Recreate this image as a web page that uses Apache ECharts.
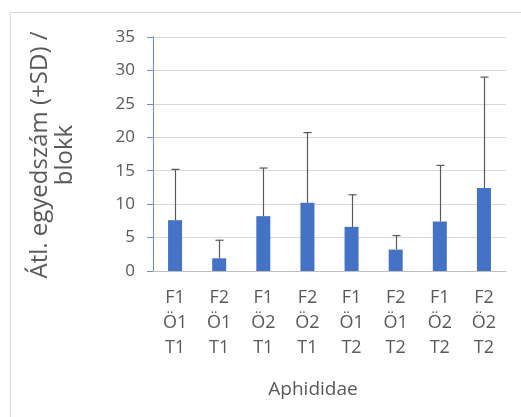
<!DOCTYPE html>
<html>
<head>
<meta charset="utf-8">
<script src="https://cdn.jsdelivr.net/npm/echarts@6/dist/echarts.min.js"></script>
<style>
  html, body { margin: 0; padding: 0; background: #fff; }
  #chart { width: 521px; height: 417px; }
</style>
</head>
<body>
<div id="chart"></div>
<script>
// Treatment groups (F / Ö / T combinations)
const categories = ['F1\nÖ1\nT1', 'F2\nÖ1\nT1', 'F1\nÖ2\nT1', 'F2\nÖ2\nT1',
                    'F1\nÖ1\nT2', 'F2\nÖ1\nT2', 'F1\nÖ2\nT2', 'F2\nÖ2\nT2'];
// Mean count per block
const means = [7.6, 1.9, 8.2, 10.2, 6.6, 3.2, 7.4, 12.4];
// Standard deviation (drawn upward only)
const sds = [7.6, 2.7, 7.2, 10.5, 4.8, 2.1, 8.4, 16.6];
const yTicks = [0, 5, 10, 15, 20, 25, 30, 35];

const FONT = '"Open Sans", "Noto Sans", sans-serif';
const TEXT = '#595959';

const chart = echarts.init(document.getElementById('chart'), null, { renderer: 'canvas' });

chart.setOption({
  animation: false,
  backgroundColor: '#fff',
  grid: { left: 153, right: 15, top: 37, bottom: 146 },
  graphic: [
    // outer frame (left and top edges)
    { type: 'line', shape: { x1: 10.5, y1: 12.5, x2: 521, y2: 12.5 }, style: { stroke: '#d9d9d9', lineWidth: 1 } },
    { type: 'line', shape: { x1: 10.5, y1: 12.5, x2: 10.5, y2: 417 }, style: { stroke: '#d9d9d9', lineWidth: 1 } },
    {
      type: 'text', x: 53, y: 155, rotation: Math.PI / 2,
      style: {
        text: 'Átl. egyedszám (+SD) /\nblokk', fill: TEXT, font: '24px ' + FONT,
        textAlign: 'center', textVerticalAlign: 'middle', lineHeight: 25
      }
    },
    {
      type: 'text', x: 313, y: 390,
      style: { text: 'Aphididae', fill: TEXT, font: '19px ' + FONT, textAlign: 'center', textVerticalAlign: 'middle' }
    }
  ],
  xAxis: {
    type: 'category',
    data: categories,
    axisLine: { show: true, lineStyle: { color: '#bfbfbf', width: 1 } },
    axisTick: { show: false },
    axisLabel: { color: TEXT, fontSize: 18, fontFamily: FONT, lineHeight: 25, margin: 14, interval: 0 }
  },
  yAxis: {
    type: 'value', min: 0, max: 35, interval: 5,
    axisLine: { show: true, lineStyle: { color: '#6f8fc9', width: 1 } },
    axisTick: { show: true, inside: false, length: 6, lineStyle: { color: '#6f8fc9' } },
    splitLine: { show: true, lineStyle: { color: '#d9d9d9', width: 1 } },
    axisLabel: {
      color: TEXT, fontSize: 17, fontFamily: FONT, margin: 18,
      formatter: v => (yTicks.includes(v) ? String(v) : '')
    }
  },
  series: [
    {
      type: 'bar',
      data: means,
      barWidth: 14,
      itemStyle: { color: '#4472C4' },
      z: 2
    },
    {
      type: 'custom',
      z: 3,
      data: means.map((m, i) => [i, m, m + sds[i]]),
      renderItem: function (params, api) {
        const top = api.coord([api.value(0), api.value(2)]);
        const base = api.coord([api.value(0), api.value(1)]);
        const x = Math.round(top[0]) + 0.5;
        const style = { stroke: '#595959', lineWidth: 1.2 };
        return {
          type: 'group',
          children: [
            { type: 'line', shape: { x1: x, y1: base[1], x2: x, y2: top[1] }, style },
            { type: 'line', shape: { x1: x - 4, y1: top[1], x2: x + 4, y2: top[1] }, style }
          ]
        };
      }
    }
  ]
});
</script>
</body>
</html>
